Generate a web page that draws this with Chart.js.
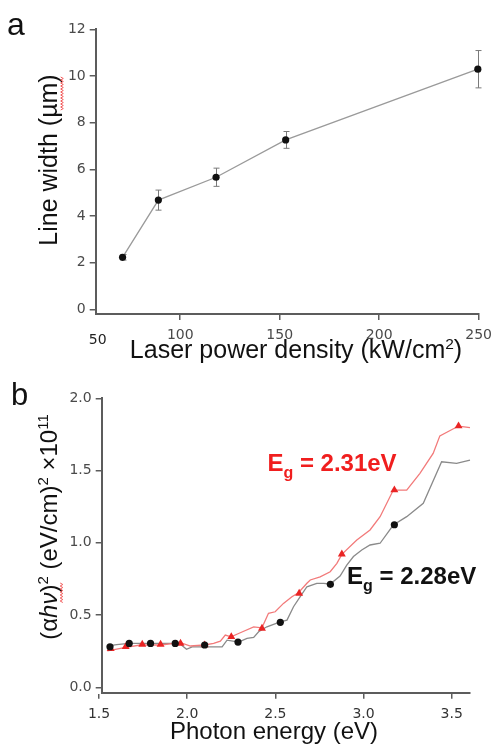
<!DOCTYPE html>
<html>
<head>
<meta charset="utf-8">
<script src="https://cdn.jsdelivr.net/npm/chart.js@4/dist/chart.umd.min.js"></script>
<style>
  html, body { margin: 0; padding: 0; background: #fff; width: 499px; height: 752px; overflow: hidden; }
  canvas { position: absolute; left: 0; }
  #chartA { top: 0; }
  #chartB { top: 380px; }
</style>
</head>
<body>
<canvas id="chartA" width="499" height="380"></canvas>
<canvas id="chartB" width="499" height="372"></canvas>
<script>
// ---- Panel a: line width vs. laser power density ----
const powerDensity = [71, 89, 118, 153, 249.6];
const lineWidth    = [2.23, 4.68, 5.66, 7.26, 10.29];
const lineWidthErr = [0.12, 0.43, 0.39, 0.36, 0.80];
const powerTicks   = [100, 150, 200, 250];
const powerStartLabel = '50';
const widthTicks   = [0, 2, 4, 6, 8, 10, 12];

// ---- Panel b: (alpha h nu)^2 vs photon energy ----
const energyBlack = [1.547, 1.600, 1.669, 1.792, 1.934, 1.960, 1.996, 2.028, 2.094, 2.150, 2.198, 2.226,
  2.292, 2.339, 2.377, 2.405, 2.452, 2.524, 2.566, 2.603, 2.641, 2.679, 2.735, 2.773, 2.811, 2.867,
  2.905, 2.943, 2.990, 3.037, 3.094, 3.169, 3.245, 3.339, 3.443, 3.528, 3.604];
const tauBlack = [0.286, 0.295, 0.304, 0.304, 0.304, 0.300, 0.263, 0.280, 0.280, 0.280, 0.280, 0.327,
  0.313, 0.339, 0.346, 0.385, 0.419, 0.452, 0.465, 0.558, 0.627, 0.696, 0.720, 0.720, 0.715, 0.770,
  0.846, 0.905, 0.950, 0.985, 0.997, 1.123, 1.181, 1.273, 1.561, 1.550, 1.573];
const markEnergyBlack = [1.562, 1.671, 1.792, 1.932, 2.099, 2.288, 2.528, 2.812, 3.175];
const markTauBlack    = [0.281, 0.304, 0.304, 0.304, 0.293, 0.313, 0.450, 0.713, 1.125];

const energyRed = [1.547, 1.600, 1.651, 1.735, 1.849, 1.962, 2.018, 2.098, 2.150, 2.188, 2.216, 2.249,
  2.301, 2.377, 2.424, 2.461, 2.499, 2.546, 2.594, 2.631, 2.679, 2.698, 2.754, 2.811, 2.849, 2.877,
  2.962, 3.037, 3.094, 3.169, 3.245, 3.320, 3.395, 3.433, 3.539, 3.604];
const tauRed = [0.253, 0.265, 0.277, 0.293, 0.293, 0.309, 0.286, 0.293, 0.304, 0.320, 0.362, 0.350,
  0.378, 0.419, 0.412, 0.512, 0.523, 0.581, 0.627, 0.655, 0.720, 0.743, 0.765, 0.800, 0.858, 0.920,
  1.019, 1.089, 1.181, 1.365, 1.365, 1.481, 1.619, 1.740, 1.808, 1.797];
const markEnergyRed = [1.566, 1.651, 1.745, 1.849, 1.962, 2.099, 2.250, 2.424, 2.635, 2.877, 3.175, 3.539];
const markTauRed    = [0.267, 0.281, 0.297, 0.297, 0.304, 0.293, 0.350, 0.408, 0.650, 0.922, 1.365, 1.808];

const energyTicks = [1.5, 2.0, 2.5, 3.0, 3.5];
const tauTicks    = [0.0, 0.5, 1.0, 1.5, 2.0];

const gapRed   = 'E|g| = 2.31eV';
const gapBlack = 'E|g| = 2.28eV';

// ---- helpers ----
const pts = (xs, ys) => xs.map((v, i) => ({ x: v, y: ys[i] }));
const TITLE_FONT = '"Liberation Sans", Arial, Helvetica, sans-serif';
const TICK_FONT = { family: '"DejaVu Sans", sans-serif', size: 14 };
const AXIS_COLOR = '#5c5c5c';

// draw a row of text runs: [text, size, style, dy]
function drawRuns(ctx, runs, x, y, align, color) {
  let w = 0;
  runs.forEach(r => { ctx.font = `${r[2] || 'normal'} ${r[1]}px ${TITLE_FONT}`; w += ctx.measureText(r[0]).width; });
  let cx = align === 'center' ? x - w / 2 : x;
  ctx.fillStyle = color;
  ctx.textAlign = 'left';
  ctx.textBaseline = 'alphabetic';
  runs.forEach(r => {
    ctx.font = `${r[2] || 'normal'} ${r[1]}px ${TITLE_FONT}`;
    ctx.fillText(r[0], cx, y + (r[3] || 0));
    cx += ctx.measureText(r[0]).width;
  });
}

function squiggle(ctx, x, y0, y1) {
  ctx.save();
  ctx.strokeStyle = '#f25a5a';
  ctx.lineWidth = 1;
  ctx.beginPath();
  for (let y = y0, k = 0; y <= y1; y += 1.5, k++) {
    const xx = x + (k % 2 ? 1.3 : -1.3);
    if (k === 0) ctx.moveTo(xx, y); else ctx.lineTo(xx, y);
  }
  ctx.stroke();
  ctx.restore();
}

function gapLabel(ctx, spec, x, y, color) {
  const [a, sub, rest] = spec.split('|');
  drawRuns(ctx, [[a, 24, 'bold'], [sub, 16, 'bold', 7], [rest, 24, 'bold']], x, y, 'left', color);
}

function axisStyle() {
  return {
    grid: { display: true, drawOnChartArea: false, drawTicks: true, tickLength: 6, color: AXIS_COLOR, lineWidth: 1.5 },
    border: { display: true, color: AXIS_COLOR, width: 2 }
  };
}

// ---- Panel a ----
const panelAPlugin = {
  id: 'panelA',
  beforeDatasetsDraw(chart) {
    const { ctx, scales: { x, y } } = chart;
    ctx.save();
    ctx.strokeStyle = '#7a7a7a';
    ctx.lineWidth = 1;
    powerDensity.forEach((p, i) => {
      const px = Math.round(x.getPixelForValue(p)) + 0.5;
      const y1 = y.getPixelForValue(lineWidth[i] - lineWidthErr[i]);
      const y2 = y.getPixelForValue(lineWidth[i] + lineWidthErr[i]);
      ctx.beginPath();
      ctx.moveTo(px, y1); ctx.lineTo(px, y2);
      ctx.moveTo(px - 3, y1); ctx.lineTo(px + 3, y1);
      ctx.moveTo(px - 3, y2); ctx.lineTo(px + 3, y2);
      ctx.stroke();
    });
    ctx.restore();
  },
  afterDraw(chart) {
    const { ctx, chartArea } = chart;
    ctx.save();
    drawRuns(ctx, [['a', 32]], 7, 35, 'left', '#111');
    drawRuns(ctx, [['Laser power density (kW/cm', 25], ['2', 15.5, 'normal', -9.5], [')', 25]], 296, 358, 'center', '#111');
    ctx.translate(57, 160);
    ctx.rotate(-Math.PI / 2);
    drawRuns(ctx, [['Line width (µm)', 25]], 0, 0, 'center', '#111');
    ctx.restore();
    ctx.save();
    ctx.font = '14px "DejaVu Sans", sans-serif';
    ctx.fillStyle = '#222';
    ctx.textAlign = 'center';
    ctx.textBaseline = 'alphabetic';
    ctx.fillText(powerStartLabel, chartArea.left + 2, 344);
    ctx.restore();
    squiggle(chart.ctx, 62, 77, 110);
  }
};

new Chart(document.getElementById('chartA'), {
  type: 'line',
  data: {
    datasets: [{
      data: pts(powerDensity, lineWidth),
      borderColor: '#9a9a9a',
      borderWidth: 1.3,
      pointRadius: 3.6,
      pointBackgroundColor: '#111',
      pointBorderColor: '#111',
      pointBorderWidth: 0,
      clip: false,
      tension: 0
    }]
  },
  options: {
    responsive: false,
    animation: false,
    devicePixelRatio: 1,
    layout: { padding: { left: 0, right: 17.3, top: 29.3, bottom: 0 } },
    plugins: { legend: { display: false }, tooltip: { enabled: false } },
    scales: {
      x: {
        type: 'linear', min: 57.5, max: 250,
        ...axisStyle(),
        afterBuildTicks: s => { s.ticks = powerTicks.map(v => ({ value: v })); },
        afterFit: s => { s.height = 66; },
        ticks: { font: TICK_FONT, color: '#4a4a4a', padding: 7, maxRotation: 0, callback: v => String(v) }
      },
      y: {
        type: 'linear', min: -0.2, max: 12,
        ...axisStyle(),
        afterBuildTicks: s => { s.ticks = widthTicks.map(v => ({ value: v })); },
        afterFit: s => { s.width = 95.7; },
        ticks: { font: TICK_FONT, color: '#4a4a4a', padding: 4, callback: v => String(v) }
      }
    }
  },
  plugins: [panelAPlugin]
});

// ---- Panel b ----
const panelBPlugin = {
  id: 'panelB',
  afterDraw(chart) {
    const { ctx, scales: { x, y } } = chart;
    ctx.save();
    drawRuns(ctx, [['b', 31]], 11, 25, 'left', '#111');
    drawRuns(ctx, [['Photon energy (eV)', 24]], 274, 358.5, 'center', '#111');
    gapLabel(ctx, gapRed, x.getPixelForValue(2.455), y.getPixelForValue(1.497), '#f01e1e');
    gapLabel(ctx, gapBlack, x.getPixelForValue(2.907), y.getPixelForValue(0.715), '#111');
    ctx.translate(57, 147);
    ctx.rotate(-Math.PI / 2);
    drawRuns(ctx, [
      ['(α', 24], ['hν', 24, 'italic'], [')', 24], ['2', 15, 'normal', -9],
      [' (eV/cm)', 24], ['2', 15, 'normal', -9], [' ×10', 24], ['11', 15, 'normal', -9]
    ], 0, 0, 'center', '#111');
    ctx.restore();
    squiggle(ctx, 61.5, 203, 223);
  }
};

new Chart(document.getElementById('chartB'), {
  type: 'line',
  data: {
    datasets: [
      {
        data: pts(markEnergyBlack, markTauBlack), showLine: false, order: 0,
        pointRadius: 3.6, pointStyle: 'circle', pointBackgroundColor: '#111', pointBorderColor: '#111', pointBorderWidth: 0, clip: false
      },
      {
        data: pts(markEnergyRed, markTauRed), showLine: false, order: 0,
        pointRadius: 4.6, pointStyle: 'triangle', pointBackgroundColor: '#ea2424', pointBorderColor: '#ea2424', pointBorderWidth: 0, clip: false
      },
      {
        data: pts(energyRed, tauRed), order: 1, borderColor: '#f27a7a', borderWidth: 1.3, pointRadius: 0, tension: 0, clip: false
      },
      {
        data: pts(energyBlack, tauBlack), order: 2, borderColor: '#8a8a8a', borderWidth: 1.3, pointRadius: 0, tension: 0, clip: false
      }
    ]
  },
  options: {
    responsive: false,
    animation: false,
    devicePixelRatio: 1,
    layout: { padding: { left: 0, right: 29, top: 18.3, bottom: 0 } },
    plugins: { legend: { display: false }, tooltip: { enabled: false } },
    scales: {
      x: {
        type: 'linear', min: 1.515, max: 3.604,
        ...axisStyle(),
        afterBuildTicks: s => { s.ticks = energyTicks.map(v => ({ value: v })); },
        afterFit: s => { s.height = 59.3; },
        ticks: { font: TICK_FONT, color: '#333', padding: 7, maxRotation: 0, callback: v => Number(v).toFixed(1) }
      },
      y: {
        type: 'linear', min: -0.037, max: 2.0,
        ...axisStyle(),
        afterBuildTicks: s => { s.ticks = tauTicks.map(v => ({ value: v })); },
        afterFit: s => { s.width = 101.7; },
        ticks: { font: TICK_FONT, color: '#4a4a4a', padding: 4, callback: v => Number(v).toFixed(1) }
      }
    }
  },
  plugins: [panelBPlugin]
});
</script>
</body>
</html>
